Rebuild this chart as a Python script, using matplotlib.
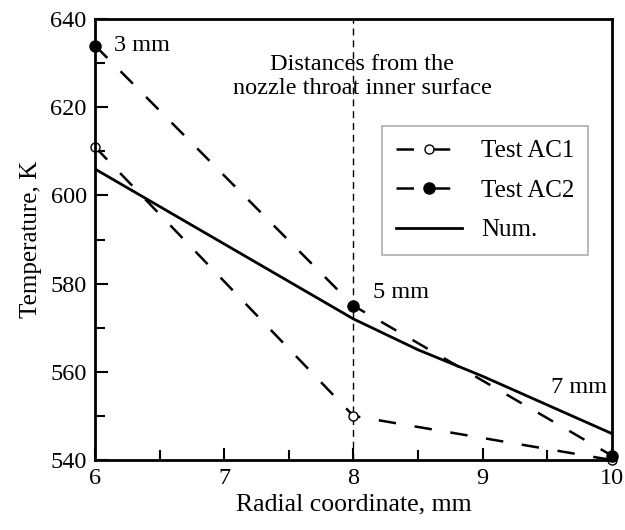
import matplotlib
matplotlib.use('Agg')
import matplotlib.pyplot as plt
from matplotlib.ticker import MultipleLocator

plt.rcParams['font.family'] = ['Liberation Serif', 'DejaVu Serif']
plt.rcParams['font.size'] = 17

# data
r_test = [6, 8, 10]
t_ac1 = [611, 550, 540]
t_ac2 = [634, 575, 541]
r_num = [6, 6.5, 7, 7.5, 8, 8.5, 9, 9.5, 10]
t_num = [606, 597.5, 589, 580.5, 572, 565, 559, 552.5, 546]
depth_labels = ['3 mm', '5 mm', '7 mm']

fig = plt.figure(figsize=(6.25, 5.3), dpi=100)
ax = fig.add_axes([0.152, 0.132, 0.827, 0.832])

ax.axvline(8, color='black', lw=1.0, ls=(0, (5, 3.5)))
dash = (0, (7, 7.5))
ax.plot(r_test, t_ac1, color='black', lw=1.8, ls=dash, marker='o',
        mfc='white', mec='black', mew=1.0, ms=6.5, label='Test AC1', clip_on=False)
ax.plot(r_test, t_ac2, color='black', lw=1.8, ls=dash, marker='o',
        mfc='black', mec='black', ms=8, label='Test AC2', clip_on=False)
ax.plot(r_num, t_num, color='black', lw=2, label='Num.')

ax.text(6.15, 634, depth_labels[0], fontsize=17.5, va='center')
ax.text(8.15, 578, depth_labels[1], fontsize=17.5, va='center')
ax.text(9.96, 556.5, depth_labels[2], fontsize=17.5, ha='right', va='center')
ax.text(8.07, 627, 'Distances from the\nnozzle throat inner surface',
        fontsize=17.5, ha='center', va='center', linespacing=1.15)

ax.set_xlim(6, 10)
ax.set_ylim(540, 640)
ax.xaxis.set_major_locator(MultipleLocator(1))
ax.xaxis.set_minor_locator(MultipleLocator(0.5))
ax.yaxis.set_major_locator(MultipleLocator(20))
ax.yaxis.set_minor_locator(MultipleLocator(10))
ax.tick_params(which='both', direction='in', width=1.5, top=False, right=False)
ax.tick_params(which='major', length=9, labelsize=17.5, pad=6)
ax.tick_params(which='minor', length=7)
for s in ax.spines.values():
    s.set_linewidth(2)

ax.set_xlabel('Radial coordinate, mm', fontsize=18.5, labelpad=3)
ax.set_ylabel('Temperature, K', fontsize=18, labelpad=6)

leg = ax.legend(loc='upper right', bbox_to_anchor=(0.954, 0.757), fontsize=18,
                fancybox=False, edgecolor='#999999', handlelength=2.65,
                handletextpad=0.75, borderpad=0.55, labelspacing=0.68,
                borderaxespad=0)
leg.get_frame().set_linewidth(1.2)

fig.savefig('out.png', dpi=100)
